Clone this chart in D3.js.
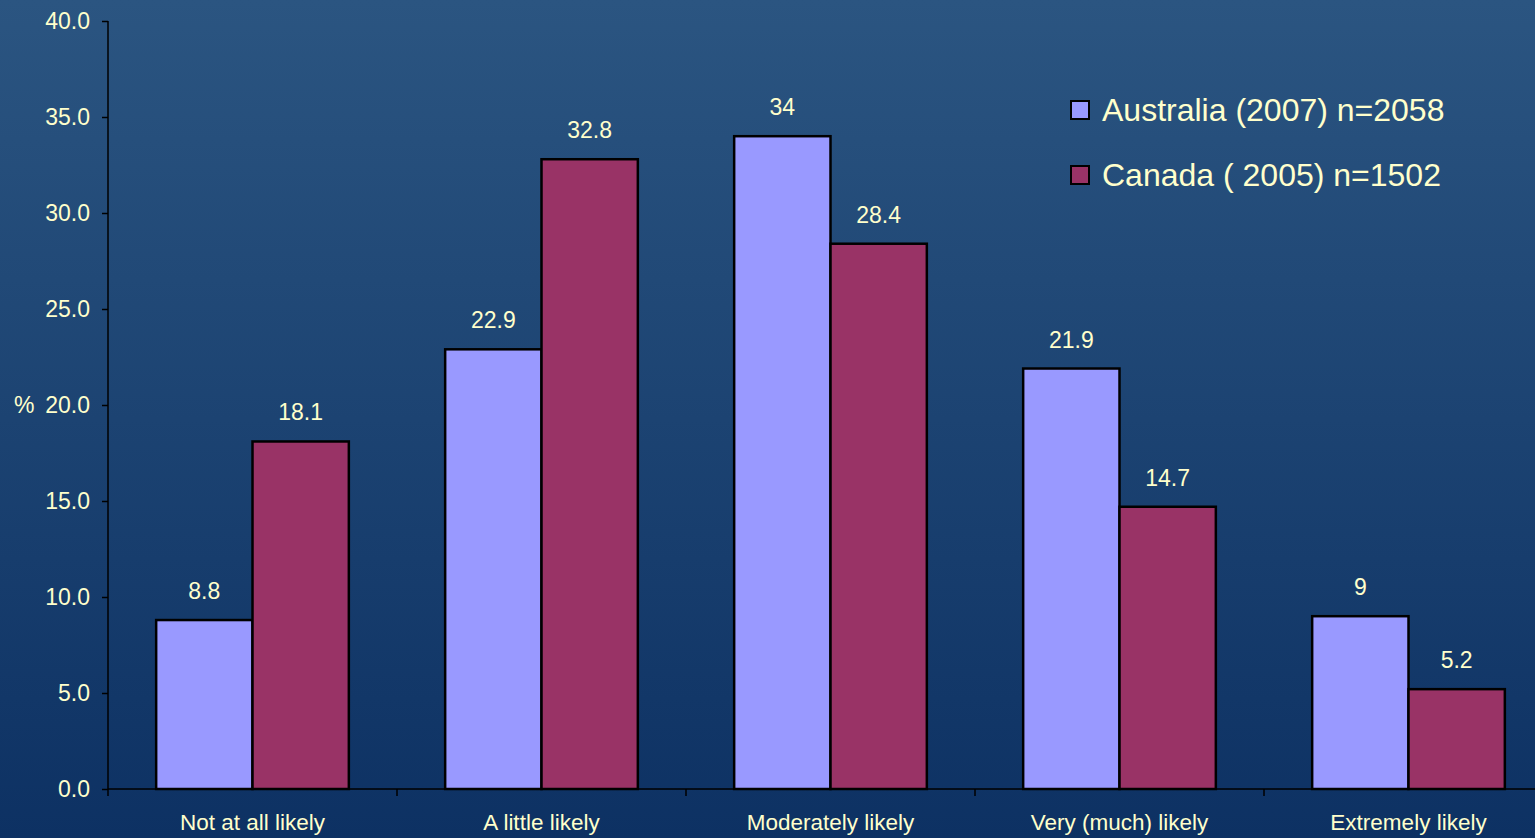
<!DOCTYPE html>
<html><head><meta charset="utf-8">
<script src="https://cdn.jsdelivr.net/npm/d3@7"></script>
<style>html,body{margin:0;padding:0;overflow:hidden;background:#1c4270}</style>
</head><body>
<svg id="c" width="1535" height="838"></svg>
<script>
const categories = ["Not at all likely","A little likely","Moderately likely","Very (much) likely","Extremely likely"];
const seriesNames = ["Australia (2007) n=2058","Canada ( 2005) n=1502"];
const australia = [8.8,22.9,34,21.9,9];
const canada = [18.1,32.8,28.4,14.7,5.2];
const australiaLabels = ["8.8","22.9","34","21.9","9"];
const canadaLabels = ["18.1","32.8","28.4","14.7","5.2"];
const yTicks = [0,5,10,15,20,25,30,35,40];
const colors = ["#9999ff","#993366"];
const txt = "#ffffcc";

(function(){
const FONT = "Liberation Sans, Arial, sans-serif";
const svg = d3.select("#c");
const defs = svg.append("defs");
const g = defs.append("linearGradient").attr("id","bg").attr("x1",0).attr("y1",0).attr("x2",0).attr("y2",1);
g.append("stop").attr("offset","0%").attr("stop-color","#2b5581");
g.append("stop").attr("offset","100%").attr("stop-color","#0d3163");
svg.append("rect").attr("width",1535).attr("height",838).attr("fill","url(#bg)");

const pL=108, pT=21, pB=789, pR=1553;
const x = d3.scaleBand().domain(categories).range([pL,pR]).paddingInner(0).paddingOuter(0);
const inner = d3.scaleBand().domain([0,1]).range([0,x.bandwidth()]).paddingOuter(0.5).paddingInner(0);
const y = d3.scaleLinear().domain([0,40]).range([pB,pT]);

const series=[australia,canada];
const labels=[australiaLabels,canadaLabels];
series.forEach((vals,si)=>{
  svg.append("g").selectAll("rect").data(vals).join("rect")
    .attr("x",(d,i)=>x(categories[i])+inner(si))
    .attr("y",d=>y(d))
    .attr("width",inner.bandwidth())
    .attr("height",d=>y(0)-y(d))
    .attr("fill",colors[si]).attr("stroke","#000").attr("stroke-width",2.5);
  svg.append("g").selectAll("text").data(vals).join("text")
    .attr("x",(d,i)=>x(categories[i])+inner(si)+inner.bandwidth()/2)
    .attr("y",d=>y(d)-21)
    .attr("text-anchor","middle").attr("fill",txt)
    .style("font-family",FONT).style("font-size","23px")
    .text((d,i)=>labels[si][i]);
});

const ya = svg.append("g").attr("transform",`translate(${pL},0)`)
  .call(d3.axisLeft(y).tickValues(yTicks).tickFormat(d3.format(".1f")).tickSize(6).tickPadding(12));
ya.select(".domain").attr("stroke","#000").attr("stroke-width",1.5).attr("d",`M0,${pT}V${pB}`);
ya.selectAll(".tick line").attr("stroke","#000").attr("stroke-width",1.5);
ya.selectAll(".tick text").attr("fill",txt).style("font-family",FONT).style("font-size","23px");

const xa = svg.append("g").attr("transform",`translate(0,${pB})`)
  .call(d3.axisBottom(x).tickSize(0).tickPadding(21));
xa.select(".domain").attr("stroke","#000").attr("stroke-width",1.5).attr("d",`M${pL},0H${pR}`);
xa.selectAll(".tick text").attr("fill",txt).style("font-family",FONT).style("font-size","22.5px").attr("dy","0.9em");
svg.append("g").selectAll("line").data(categories).join("line")
  .attr("x1",d=>x(d)).attr("x2",d=>x(d)).attr("y1",pB).attr("y2",pB+7)
  .attr("stroke","#000").attr("stroke-width",1.5);

svg.append("text").attr("x",14).attr("y",y(20)+8).attr("fill",txt)
  .style("font-family",FONT).style("font-size","23px").text("%");

const lg = svg.append("g");
seriesNames.forEach((n,i)=>{
  const yy = 110 + i*65;
  lg.append("rect").attr("x",1071).attr("y",yy-9).attr("width",18).attr("height",18)
    .attr("fill",colors[i]).attr("stroke","#000").attr("stroke-width",2);
  lg.append("text").attr("x",1102).attr("y",yy+11).attr("fill",txt)
    .style("font-family",FONT).style("font-size","32px").text(n);
});
})();
</script>
</body></html>
